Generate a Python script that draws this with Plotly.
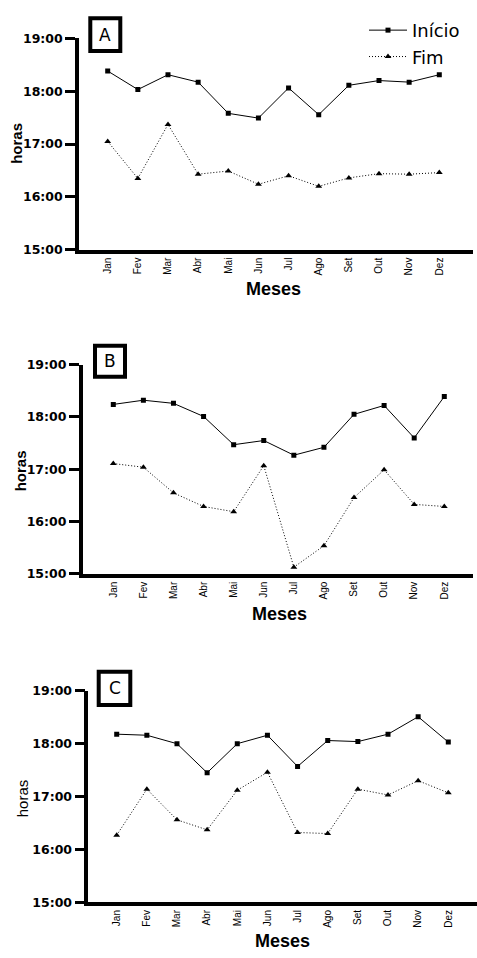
import plotly.graph_objects as go

months = ["Jan", "Fev", "Mar", "Abr", "Mai", "Jun", "Jul", "Ago", "Set", "Out", "Nov", "Dez"]
y_ticks = [15, 16, 17, 18, 19]
y_tick_labels = ["15:00", "16:00", "17:00", "18:00", "19:00"]

# values in decimal hours
inicio_A = [18.38, 18.03, 18.31, 18.17, 17.58, 17.49, 18.06, 17.555, 18.11, 18.20, 18.17, 18.31]
fim_A = [17.05, 16.35, 17.37, 16.43, 16.49, 16.24, 16.40, 16.20, 16.36, 16.44, 16.43, 16.46]

inicio_B = [18.24, 18.32, 18.26, 18.01, 17.47, 17.55, 17.27, 17.42, 18.05, 18.22, 17.60, 18.39]
fim_B = [17.11, 17.04, 16.55, 16.29, 16.19, 17.07, 15.13, 15.54, 16.46, 16.99, 16.33, 16.29]

inicio_C = [18.18, 18.16, 18.00, 17.45, 18.00, 18.16, 17.57, 18.06, 18.04, 18.18, 18.51, 18.03]
fim_C = [16.27, 17.14, 16.56, 16.37, 17.12, 17.46, 16.32, 16.30, 17.14, 17.03, 17.30, 17.07]

panel_labels = ["A", "B", "C"]
series_names = ["Início", "Fim"]

W, H = 477, 958
x_idx = list(range(len(months)))

# layout geometry in pixels
panels = [
    dict(inicio=inicio_A, fim=fim_A, xl=79, xr=473, yt=30.7, yb=245.7, x0=107.7, x11=439.3,
         box=(88.3, 8.3, 122.3, 45.7), meses=(273, 285), horas=(17, 138)),
    dict(inicio=inicio_B, fim=fim_B, xl=82.7, xr=473, yt=362.3, yb=575, x0=113.3, x11=444.3,
         box=(93, 341, 127, 376.7), meses=(279, 616), horas=(20.7, 470)),
    dict(inicio=inicio_C, fim=fim_C, xl=88.3, xr=476.7, yt=693.7, yb=908.5, x0=116.7, x11=448.3,
         box=(96.7, 672.3, 132.3, 710), meses=(282.5, 948), horas=(23.3, 802.5)),
]

fig = go.Figure()
layout = dict(width=W, height=H, margin=dict(l=0, r=0, t=0, b=0),
              paper_bgcolor="white", plot_bgcolor="white", annotations=[], shapes=[])

for i, p in enumerate(panels):
    n = "" if i == 0 else str(i + 1)
    xa, ya = "x" + n, "y" + n
    fig.add_trace(go.Scatter(x=x_idx, y=p["inicio"], mode="lines+markers", name=series_names[0],
                             line=dict(color="black", width=1),
                             marker=dict(symbol="square", size=5, color="black"),
                             xaxis=xa, yaxis=ya, showlegend=(i == 0)))
    fig.add_trace(go.Scatter(x=x_idx, y=p["fim"], mode="lines+markers", name=series_names[1],
                             line=dict(color="black", width=1, dash="1px,2px"),
                             marker=dict(symbol="triangle-up", size=6, color="black"),
                             xaxis=xa, yaxis=ya, showlegend=(i == 0)))
    sp = (p["x11"] - p["x0"]) / 11.0
    xr0 = -(p["x0"] - p["xl"]) / sp
    xr1 = 11 + (p["xr"] - p["x11"]) / sp
    layout["xaxis" + n] = dict(domain=[p["xl"] / W, p["xr"] / W], range=[xr0, xr1],
                               anchor=ya, tickmode="array", tickvals=x_idx, ticktext=months,
                               tickangle=-90,
                               showline=True, linecolor="black", linewidth=3.5, ticks="",
                               showgrid=False, zeroline=False,
                               tickfont=dict(family="Liberation Sans", size=10, color="black"))
    layout["yaxis" + n] = dict(domain=[1 - p["yb"] / H, 1 - p["yt"] / H], range=[15, 19],
                               anchor=xa, tickmode="array", tickvals=y_ticks, ticktext=y_tick_labels,
                               showline=True, linecolor="black", linewidth=3.5,
                               ticks="outside", ticklen=10, tickwidth=2.5, tickcolor="black",
                               showgrid=False, zeroline=False,
                               tickfont=dict(family="DejaVu Sans", size=12.5, color="black",
                                             weight="bold"))
    bx0, by0, bx1, by1 = p["box"]
    layout["shapes"].append(dict(type="rect", xref="paper", yref="paper",
                                 x0=(bx0 + 2) / W, x1=(bx1 - 2) / W,
                                 y0=1 - (by1 - 2) / H, y1=1 - (by0 + 2) / H,
                                 line=dict(color="black", width=4), fillcolor="white"))
    layout["annotations"].append(dict(text=panel_labels[i], xref="paper", yref="paper",
                                      x=(bx0 + bx1) / 2 / W, y=1 - (by0 + by1) / 2 / H,
                                      xanchor="center", yanchor="middle", showarrow=False,
                                      font=dict(family="DejaVu Sans ExtraLight, DejaVu Sans", size=17,
                                                color="black")))
    mx, my = p["meses"]
    layout["annotations"].append(dict(text="Meses", xref="paper", yref="paper", x=mx / W,
                                      y=1 - my / H, xanchor="center", yanchor="middle",
                                      showarrow=False,
                                      font=dict(family="Liberation Sans", size=18, color="black",
                                                weight="bold")))
    hx, hy = p["horas"]
    layout["annotations"].append(dict(text="horas", xref="paper", yref="paper", x=hx / W,
                                      y=1 - hy / H, xanchor="center", yanchor="middle",
                                      showarrow=False, textangle=-90,
                                      font=dict(family="Liberation Sans", size=15, color="black",
                                                weight="bold" if i < 2 else "normal")))

layout["legend"] = dict(x=364 / W, y=1 - 4 / H, xanchor="left", yanchor="top",
                        bgcolor="rgba(0,0,0,0)", font=dict(family="DejaVu Sans", size=18,
                                                           color="black"),
                        itemwidth=38, tracegroupgap=0)
fig.update_layout(**layout)
fig.write_html("out.html", config={"displayModeBar": False},
               post_script="document.body.style.margin='0';document.body.style.overflow='hidden';")
